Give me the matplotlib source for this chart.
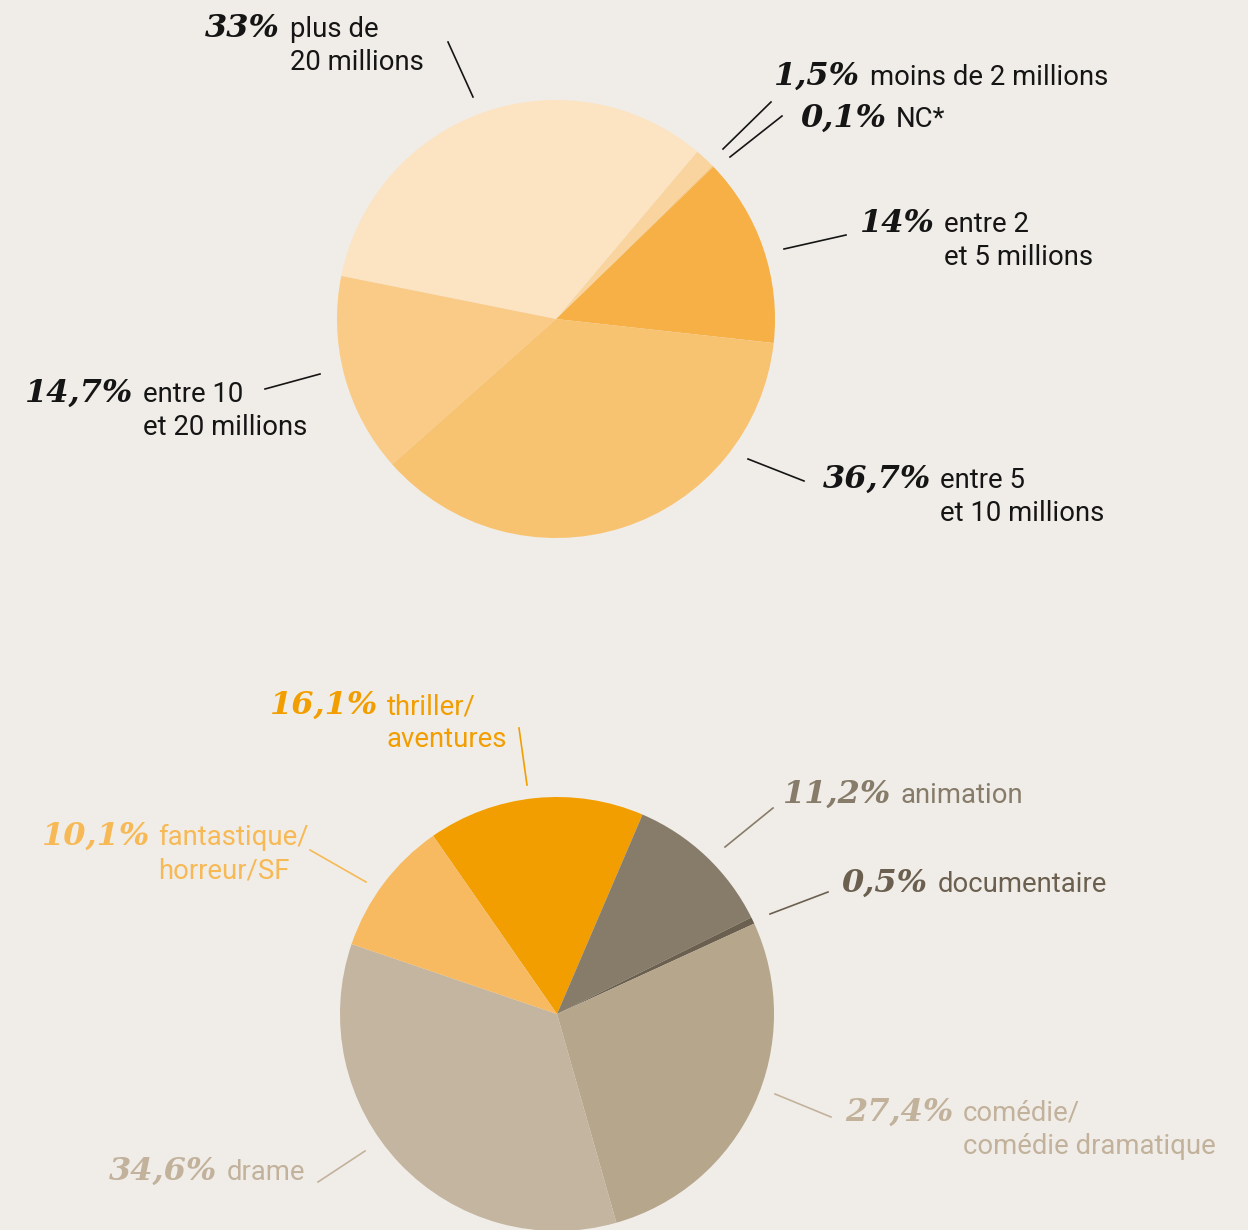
import matplotlib
matplotlib.use("Agg")
import matplotlib.pyplot as plt
from matplotlib.lines import Line2D

W, H = 1248, 1230
BG = "#F0EDE8"

# ---------------- data ----------------
# Top pie: budget categories (counter-clockwise order)
top_values = [14.0, 0.1, 1.5, 33.0, 14.7, 36.7]
top_numbers = ["14%", "0,1%", "1,5%", "33%", "14,7%", "36,7%"]
top_texts = [["entre 2", "et 5 millions"], ["NC*"], ["moins de 2 millions"],
             ["plus de", "20 millions"], ["entre 10", "et 20 millions"],
             ["entre 5", "et 10 millions"]]
top_colors = ["#F6B045", "#F8C57A", "#F9D49F", "#FCE3C1", "#F9CB87", "#F8C370"]

# Bottom pie: genres (clockwise order)
bot_values = [16.1, 11.2, 0.5, 27.4, 34.6, 10.1]
bot_numbers = ["16,1%", "11,2%", "0,5%", "27,4%", "34,6%", "10,1%"]
bot_texts = [["thriller/", "aventures"], ["animation"], ["documentaire"],
             ["comédie/", "comédie dramatique"], ["drame"],
             ["fantastique/", "horreur/SF"]]
bot_colors = ["#F29E00", "#877C69", "#6B604F", "#B6A68C", "#C4B5A0", "#F7BA60"]
bot_text_colors = ["#F29E00", "#877C69", "#6B604F", "#C2B29B", "#C2B29C", "#F7B955"]

# ---------------- layout ----------------
top_center, top_r = (556, 319), 219
bot_center, bot_r = (557, 1014), 217

# label layout: (number right x, text left x, first baseline y, leader line)
top_layout = [
    (935, 944, 232, ((784, 249), (846, 235))),
    (887, 896, 127, ((730, 157), (782, 116))),
    (860, 870, 85, ((723, 149), (771, 102))),
    (280, 290, 37, ((448, 42), (473, 97))),
    (133, 143, 402, ((265, 389), (320, 374))),
    (931, 940, 488, ((748, 459), (804, 481))),
]
bot_layout = [
    (378, 387, 714, ((519, 728), (527, 785))),
    (891, 901, 803, ((725, 847), (773, 808))),
    (928, 938, 892, ((770, 914), (828, 892))),
    (953, 963, 1121, ((775, 1094), (831, 1117))),
    (217, 227, 1180, ((318, 1182), (365, 1151))),
    (150, 158, 845, ((310, 850), (366, 882))),
]

LINE_H = 33
NUM_FONT = dict(family="DejaVu Serif", weight="bold", style="italic", size=23)
TXT_FONT = dict(family=["Roboto", "Liberation Sans", "DejaVu Sans"], weight="normal", size=19.8)


def fx(x):
    return x / W


def fy(y):
    return 1 - y / H


fig = plt.figure(figsize=(W / 100, H / 100), dpi=100, facecolor=BG)


def add_pie(center, r, values, colors, start, ccw):
    cx, cy = center
    ax = fig.add_axes([fx(cx - r), fy(cy + r), 2 * r / W, 2 * r / H])
    ax.pie(values, colors=colors, startangle=start, counterclock=ccw,
           radius=1, wedgeprops=dict(linewidth=0))
    ax.set_xlim(-1, 1)
    ax.set_ylim(-1, 1)
    ax.set_aspect("equal")
    ax.axis("off")
    ax.patch.set_alpha(0)


def add_labels(numbers, texts, layout, colors):
    for num, lines, (nx, tx, by, leader), col in zip(numbers, texts, layout, colors):
        fig.text(fx(nx), fy(by), num, ha="right", va="baseline", color=col, **NUM_FONT)
        for i, line in enumerate(lines):
            fig.text(fx(tx), fy(by + i * LINE_H), line, ha="left", va="baseline",
                     color=col, **TXT_FONT)
        (x0, y0), (x1, y1) = leader
        fig.add_artist(Line2D([fx(x0), fx(x1)], [fy(y0), fy(y1)],
                              transform=fig.transFigure, color=col, linewidth=1.2))


add_pie(top_center, top_r, top_values, top_colors, -6.3, True)
add_pie(bot_center, bot_r, bot_values, bot_colors, 124.8, False)

add_labels(top_numbers, top_texts, top_layout, ["#151515"] * len(top_numbers))
add_labels(bot_numbers, bot_texts, bot_layout, bot_text_colors)

fig.savefig("out.png", dpi=100, facecolor=BG)
